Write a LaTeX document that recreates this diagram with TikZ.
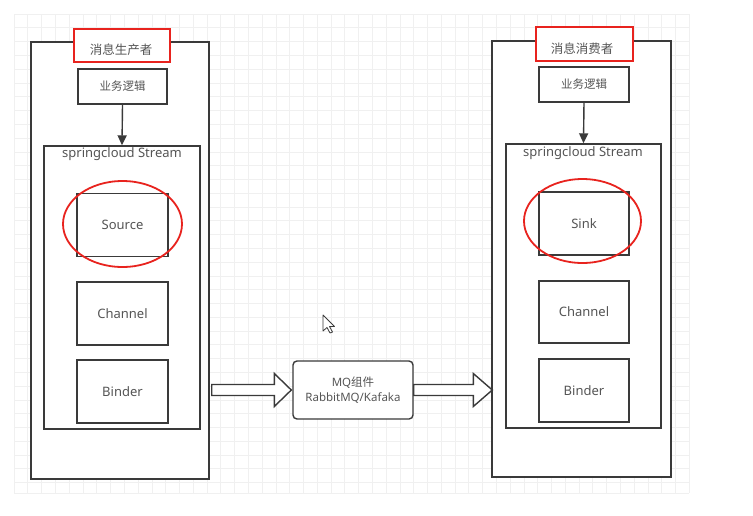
\documentclass[tikz,border=0pt]{standalone}
\usepackage{fontspec}
\setmainfont{Noto Sans}
\newfontfamily\cjk{Noto Sans CJK SC}
\usetikzlibrary{shapes.geometric,arrows.meta,calc}
\definecolor{gridc}{HTML}{F0F0F0}
\definecolor{linec}{HTML}{3A3A3A}
\definecolor{textc}{HTML}{555555}
\definecolor{redc}{HTML}{E8231E}
\begin{document}
\begin{tikzpicture}[x=1pt,y=-1pt,
  box/.style={draw=linec,line width=1.4pt,fill=white,inner sep=0pt,text=textc},
  comp/.style={box,minimum width=91pt,minimum height=63pt,font=\fontsize{13}{15}\selectfont},
  logic/.style={box,minimum width=89pt,minimum height=35pt,font=\cjk\fontsize{11.5}{13}\selectfont},
  redbox/.style={draw=redc,line width=2pt,fill=white,inner sep=0pt},
  redlabel/.style={text=textc,font=\cjk\fontsize{12.5}{14}\selectfont,inner sep=0pt},
  redell/.style={ellipse,draw=redc,line width=1.8pt,inner sep=0pt},
  streamlabel/.style={text=textc,font=\fontsize{13}{15}\selectfont,inner sep=0pt},
  blockarrow/.style={draw=linec,line width=1.4pt,fill=white,line join=miter},
  flow/.style={draw=linec,line width=1.4pt,-{Triangle[length=10pt,width=9pt]}}
]
\useasboundingbox (0,0) rectangle (753,515);
% grid
\foreach \i in {0,...,49} {\draw[gridc,line width=0.6pt] (14+\i*13.78,14) -- (14+\i*13.78,493);}
\foreach \j in {0,...,34} {\draw[gridc,line width=0.6pt] (14,14+\j*13.78) -- (689,14+\j*13.78);}
\draw[gridc,line width=0.6pt] (14,493) -- (689,493);

% ---- producer ----
\node[box,minimum width=178pt,minimum height=437pt] (outerL) at (120,260.5) {};
\node[redbox,minimum width=96pt,minimum height=33pt] (redL) at (122,45.5) {};
\node[redlabel] (titleL) at (121,50) {消息生产者};
\node[logic] (logicL) at (122.5,86.5) {业务逻辑};
\node[box,minimum width=156pt,minimum height=283pt] (streamL) at (122,287.5) {};
\node[streamlabel] (streamLabelL) at (122,154) {springcloud Stream};
\node[comp] (source) at (122.5,225) {Source};
\node[comp] (channelL) at (122.5,313.5) {Channel};
\node[comp] (binderL) at (122.5,391.5) {Binder};
\node[redell,minimum width=119pt,minimum height=86pt] (ellL) at (122.5,224) {};
\draw[flow] (logicL.south) -- (streamL.north);

% ---- consumer ----
\node[box,minimum width=179pt,minimum height=436pt] (outerR) at (581.5,259) {};
\node[redbox,minimum width=97pt,minimum height=34pt] (redR) at (584.5,44) {};
\node[redlabel] (titleR) at (582,49) {消息消费者};
\node[logic,minimum width=90pt] (logicR) at (584,84.5) {业务逻辑};
\node[box,minimum width=155pt,minimum height=284pt] (streamR) at (583.5,286) {};
\node[streamlabel] (streamLabelR) at (583,153) {springcloud Stream};
\node[comp,minimum width=90pt] (sink) at (584,223.5) {Sink};
\node[comp,minimum width=90pt,minimum height=62pt] (channelR) at (584,312) {Channel};
\node[comp,minimum width=90pt] (binderR) at (584,390.5) {Binder};
\node[redell,minimum width=117pt,minimum height=84pt] (ellR) at (582.5,221) {};
\draw[flow] (logicR.south) -- (streamR.north);

% ---- MQ ----
\node[box,rounded corners=4pt,minimum width=120pt,minimum height=58pt,align=center,
  font=\fontsize{11.5}{15}\selectfont] (mq) at (353,390) {MQ{\cjk 组件}\\RabbitMQ/Kafaka};

% block arrows
\draw[blockarrow] let \p1=($(outerL.east |- mq.west)+(2pt,0)$), \p2=(mq.west) in
  (\x1,\y1+5.5pt) -- (\x2-18pt,\y1+5.5pt) -- (\x2-18pt,\y1+16.5pt) -- (\x2-1pt,\y1)
  -- (\x2-18pt,\y1-16.5pt) -- (\x2-18pt,\y1-5.5pt) -- (\x1,\y1-5.5pt) -- cycle;
\draw[blockarrow] let \p1=(mq.east), \p2=(outerR.west |- mq.east) in
  (\x1,\y1+5.5pt) -- (\x2-18pt,\y1+5.5pt) -- (\x2-18pt,\y1+16.5pt) -- (\x2+1pt,\y1)
  -- (\x2-18pt,\y1-16.5pt) -- (\x2-18pt,\y1-5.5pt) -- (\x1,\y1-5.5pt) -- cycle;

% mouse cursor
\draw[linec,fill=white,line width=0.8pt,line join=round]
  (323,315) -- (323,331) -- (327,327.5) -- (330,333) -- (332.5,332) -- (329.5,326.5) -- (334.5,326.5) -- cycle;
\end{tikzpicture}
\end{document}
